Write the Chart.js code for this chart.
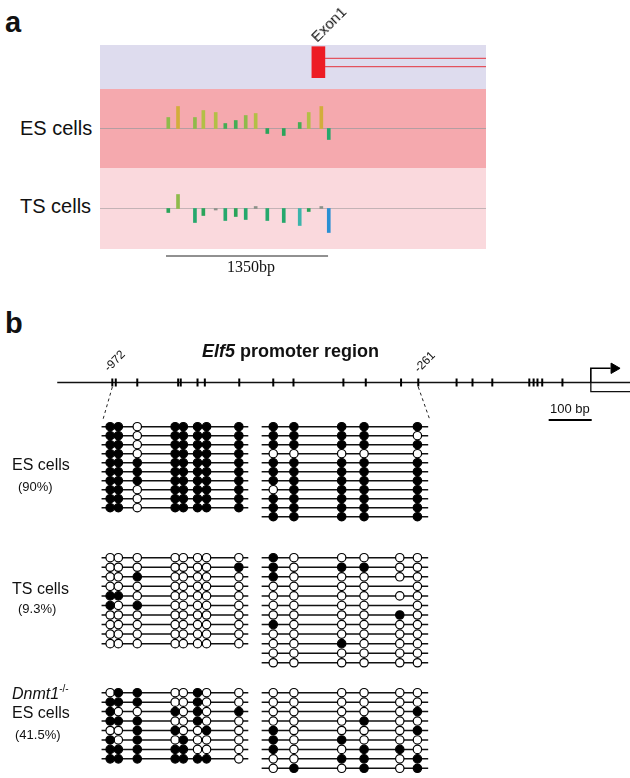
<!DOCTYPE html>
<html>
<head>
<meta charset="utf-8">
<script src="https://cdn.jsdelivr.net/npm/chart.js@4.4.1/dist/chart.umd.min.js"></script>
<style>
  html, body { margin: 0; padding: 0; background: #fff; }
  body { width: 630px; height: 778px; position: relative; overflow: hidden; font-family: Arial, "Liberation Sans", sans-serif; color: #111; }
  .band { position: absolute; left: 100px; width: 386px; }
  canvas { position: absolute; }
  .lbl { position: absolute; white-space: nowrap; line-height: 1; }
</style>
</head>
<body>
<div class="band" style="top:45px;height:44px;background:#dedcee"></div>
<div class="band" style="top:89px;height:79px;background:#f5a9ae"></div>
<div class="band" style="top:168px;height:81px;background:#fad9dd"></div>
<canvas id="trackChart" width="386" height="234" style="left:100px;top:43px"></canvas>
<canvas id="bisulfiteChart" width="630" height="428" style="left:0;top:350px"></canvas>
<script>
// panel a: methylation track, positions in bp relative to the start of exon 1
const trackPositions = [-1195, -1114, -973, -903, -800, -720, -633, -550, -467, -370, -233, -100, -25, 80, 142];
const esTrack = [11, 22, 11, 18, 16, 5, 8, 13, 15, -5, -7, 6, 16, 22, -11];
const tsTrack = [-4, 14, -14, -7, -1.5, -12, -8, -11, 2, -12, -14, -17, -3, 2, -24];
const exon1 = [0, 111];
const transcriptEnd = 1452;
const scaleBarA = [-1214, 136]; // 1350 bp

// panel b: Elf5 promoter, positions in bp
const cpgSites = [-972, -964, -914, -819, -813, -774, -757, -677, -598, -551, -435, -383, -301, -261,
  -172, -135, -89, -3, 7, 16, 27, 74];
const tss = 140;
const promoterStart = -1100;
const promoterEnd = 231;
const scaleBarB = [42, 142]; // 100 bp
const leftSites = [-977, -958, -914, -826, -807, -774, -753, -678];
const rightSites = [-598, -550, -439, -387, -304, -263];
const leftSpan = [-997, -656];
const rightSpan = [-625, -238];

// 1 = methylated, 0 = unmethylated, - = not present
const esLeft = ["11011111", "11011111", "11011111", "11011111", "11111111",
  "11111111", "11111111", "11011111", "11011111", "11011111"];
const esRight = ["1111-1", "1111-0", "1111-1", "0000-0", "1111-1", "1111-1",
  "1111-1", "0111-1", "1111-1", "1111-1", "1111-1"];
const tsLeft = ["00000000", "00000001", "00100000", "00000000", "11000000",
  "10100000", "00000000", "00000000", "00000000", "00000000"];
const tsRight = ["100000", "101100", "100000", "0000-0", "000000", "0000-0",
  "000010", "100000", "000000", "001000", "000000", "000000"];
const dnLeft = ["01100100", "11100100", "10010101", "11100100", "00110010",
  "10101000", "11111000", "11111110"];
const dnRight = ["000000", "000000", "000001", "000100", "100001", "101000",
  "100110", "001101", "010101"];

function barColor(v) {
  if (Math.abs(v) < 2.5) return "#8d928a";
  if (v >= 20) return "#d2ad3b";
  if (v >= 15) return "#b3bf46";
  if (v >= 9) return "#8fba4b";
  if (v > 0) return "#45ad55";
  if (v > -10) return "#2aa45a";
  if (v > -16) return "#25a86c";
  if (v > -20) return "#3cb4ab";
  return "#2a8fd3";
}

function hLine(x0, x1, y, yAxisID, color, width, dash) {
  return {
    type: "line", data: [{ x: x0, y }, { x: x1, y }], yAxisID,
    borderColor: color, borderWidth: width, borderDash: dash || [], pointRadius: 0, order: 2,
  };
}

const hidden = (extra) => Object.assign({ type: "linear", display: false, offset: false, grace: 0 }, extra);
const baseOptions = {
  responsive: false, animation: false, events: [],
  plugins: { legend: { display: false }, tooltip: { enabled: false } },
  layout: { padding: 0, autoPadding: false },
};

new Chart(document.getElementById("trackChart"), {
  type: "bar",
  data: {
    datasets: [
      hLine(-1764, transcriptEnd, 0, "yES", "#b49ea2", 1),
      hLine(-1764, transcriptEnd, 0, "yTS", "#c3b3b6", 1),
      {
        data: trackPositions.map((x, i) => ({ x, y: esTrack[i] })), yAxisID: "yES",
        backgroundColor: esTrack.map(barColor), barThickness: 3, grouped: false, order: 1,
      },
      {
        data: trackPositions.map((x, i) => ({ x, y: tsTrack[i] })), yAxisID: "yTS",
        backgroundColor: tsTrack.map(barColor), barThickness: 3, grouped: false, order: 1,
      },
      {
        data: [{ x: (exon1[0] + exon1[1]) / 2, y: [3.7, 34.7] }], yAxisID: "yGene",
        backgroundColor: "#ed1c24", barThickness: 13, grouped: false, order: 1,
      },
      hLine(exon1[1], transcriptEnd, 15.3, "yGene", "#e4323c", 1),
      hLine(exon1[1], transcriptEnd, 23.7, "yGene", "#e4323c", 1),
      hLine(scaleBarA[0], scaleBarA[1], 213, "yGene", "#222", 1),
    ],
  },
  options: Object.assign({}, baseOptions, {
    scales: {
      x: hidden({ min: -1764, max: 1452 }),
      yES: hidden({ min: -148.5, max: 85.5 }),
      yTS: hidden({ min: -68.5, max: 165.5 }),
      yGene: hidden({ min: 0, max: 234, reverse: true }),
    },
  }),
});

const H = 428;
function rowAxis(firstRow, spacing) {
  return hidden({ min: -firstRow / spacing, max: (H - firstRow) / spacing, reverse: true });
}

function lollipops(left, right, yAxisID) {
  const lines = [], filled = [], open = [];
  const addBlock = (rows, sites, span) => rows.forEach((row, r) => {
    lines.push({ x: span[0], y: r }, { x: span[1], y: r }, { x: span[1], y: null });
    [...row].forEach((c, i) => {
      if (c === "1") filled.push({ x: sites[i], y: r });
      if (c === "0") open.push({ x: sites[i], y: r });
    });
  });
  addBlock(left, leftSites, leftSpan);
  addBlock(right, rightSites, rightSpan);
  const dot = { type: "scatter", yAxisID, pointRadius: 4.2, borderWidth: 1.2, borderColor: "#000", order: 0 };
  return [
    { type: "line", data: lines, yAxisID, borderColor: "#111", borderWidth: 1.5, pointRadius: 0, spanGaps: false, order: 1 },
    Object.assign({ data: filled, backgroundColor: "#000" }, dot),
    Object.assign({ data: open, backgroundColor: "#fff" }, dot),
  ];
}

const promoterY = 32.5;
const arrowY = 18.3;
new Chart(document.getElementById("bisulfiteChart"), {
  type: "scatter",
  data: {
    datasets: [
      hLine(promoterStart, promoterEnd, promoterY, "yPro", "#111", 1.3),
      {
        type: "line", yAxisID: "yPro", borderColor: "#111", borderWidth: 1.3, pointRadius: 0,
        data: [{ x: promoterEnd, y: 41.7 }, { x: tss, y: 41.7 }, { x: tss, y: promoterY }],
      },
      {
        type: "line", yAxisID: "yPro", borderColor: "#000", borderWidth: 1.6, pointRadius: 0,
        data: [{ x: tss, y: promoterY }, { x: tss, y: arrowY }, { x: 186, y: arrowY }],
      },
      {
        yAxisID: "yPro", data: [{ x: 194, y: arrowY }], pointStyle: "triangle", rotation: 90,
        pointRadius: 6, backgroundColor: "#000", borderColor: "#000", borderWidth: 1,
      },
      {
        yAxisID: "yPro", data: cpgSites.map((x) => ({ x, y: promoterY })), pointStyle: "line",
        rotation: 90, pointRadius: 4, borderColor: "#000", borderWidth: 2,
      },
      {
        type: "line", yAxisID: "yPro", borderColor: "#222", borderWidth: 1, borderDash: [3, 3], pointRadius: 0,
        data: [{ x: cpgSites[0], y: 37 }, { x: leftSpan[0] + 3, y: 70 }],
      },
      {
        type: "line", yAxisID: "yPro", borderColor: "#222", borderWidth: 1, borderDash: [3, 3], pointRadius: 0,
        data: [{ x: cpgSites[13], y: 37 }, { x: rightSpan[1] + 4, y: 70 }],
      },
      hLine(scaleBarB[0], scaleBarB[1], 70, "yPro", "#000", 2),
      ...lollipops(esLeft, esRight, "yES"),
      ...lollipops(tsLeft, tsRight, "yTS"),
      ...lollipops(dnLeft, dnRight, "yDn"),
    ],
  },
  options: Object.assign({}, baseOptions, {
    scales: {
      x: hidden({ min: -1233, max: 231 }),
      yPro: hidden({ min: 0, max: H, reverse: true }),
      yES: rowAxis(76.7, 9.0),
      yTS: rowAxis(207.7, 9.55),
      yDn: rowAxis(342.7, 9.45),
    },
  }),
});

function addLabel(html, x, baseline, size, style) {
  const el = document.createElement("div");
  el.className = "lbl";
  el.innerHTML = html;
  el.style.left = x + "px";
  el.style.top = (baseline - size * 0.85) + "px";
  el.style.fontSize = size + "px";
  Object.assign(el.style, style || {});
  document.body.appendChild(el);
}
const serif = { fontFamily: '"Liberation Serif", "Times New Roman", serif' };
const tilt = (size) => ({ transform: "rotate(-45deg)", transformOrigin: `0 ${size * 0.85}px` });

addLabel("a", 5, 33, 29, { fontWeight: "bold" });
addLabel("ES cells", 20, 135, 20);
addLabel("TS cells", 20, 213, 20);
addLabel("1350bp", 227, 273, 16, serif);
addLabel("Exon1", 317, 43, 15, tilt(15));
addLabel("b", 5, 334, 29, { fontWeight: "bold" });
addLabel("<i>Elf5</i> promoter region", 202, 357, 18, { fontWeight: "bold" });
addLabel("-972", 109, 372, 12, tilt(12));
addLabel("-261", 419, 373, 12, tilt(12));
addLabel("100 bp", 550, 413, 13);
addLabel("ES cells", 12, 471, 16);
addLabel("(90%)", 18, 491, 13);
addLabel("TS cells", 12, 595, 16);
addLabel("(9.3%)", 18, 613, 13);
addLabel('<i>Dnmt1</i><span style="font-size:10px;position:relative;top:-7px">-/-</span>', 12, 700, 16);
addLabel("ES cells", 12, 719, 16);
addLabel("(41.5%)", 15, 739, 13);
</script>
</body>
</html>
